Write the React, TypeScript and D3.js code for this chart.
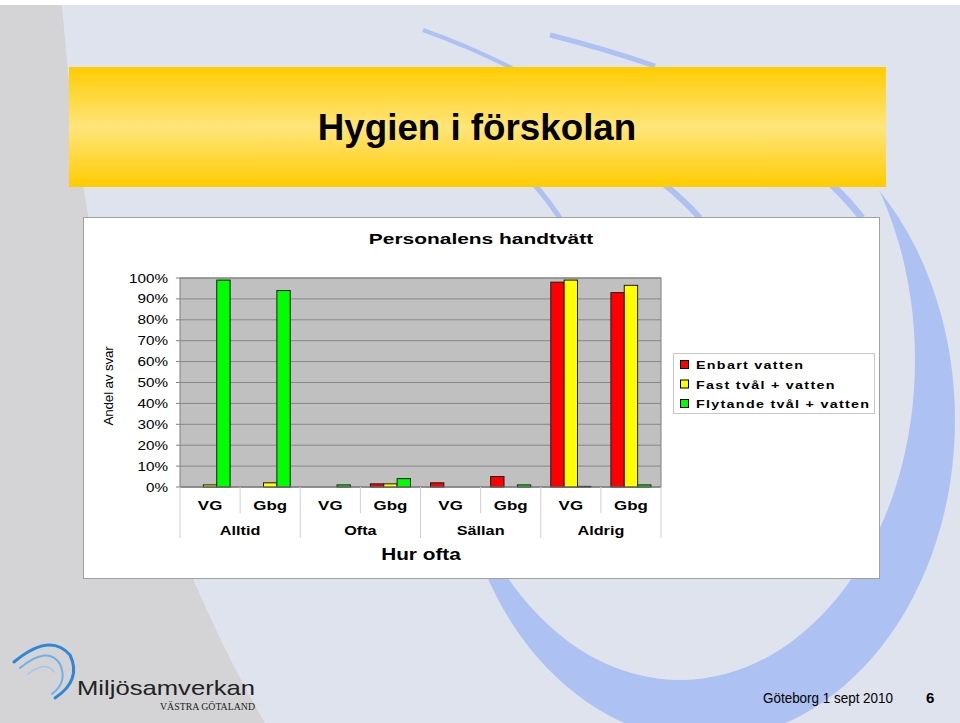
import React from "react";
import * as d3 from "d3";

const regions = ["VG", "Gbg"];
const frequencies = ["Alltid", "Ofta", "Sällan", "Aldrig"];
const seriesNames = ["Enbart vatten", "Fast tvål + vatten", "Flytande tvål + vatten"];
const seriesColors = ["#ff0000", "#ffff00", "#00ff00"];
const enbartVatten = [0, 0, 0, 1.5, 2, 5, 98, 93];
const fastTval = [1, 2, 0, 1.5, 0, 0, 99, 96.5];
const flytandeTval = [99, 94, 1, 4, 0, 1, 0.3, 1];
const yTicks = [0, 10, 20, 30, 40, 50, 60, 70, 80, 90, 100];

const SX = 1.3;
const font = "'Liberation Sans', Arial, sans-serif";

function T(props: { x: number; y: number; size: number; bold?: boolean; anchor?: string; sx?: number; children: React.ReactNode; family?: string; fill?: string; ls?: number }) {
  const { x, y, size, bold, anchor = "start", sx = SX, children, family = font, fill = "#000", ls = 0 } = props;
  return (
    <text transform={`translate(${x},${y}) scale(${sx},1)`} textAnchor={anchor} fontFamily={family}
      fontWeight={bold ? "bold" : "normal"} fontSize={size} fill={fill} letterSpacing={ls}>
      {children}
    </text>
  );
}

export default function App() {
  const W = 960, H = 723;
  const plot = { x0: 180, x1: 661, y0: 278, y1: 487 };
  const groups = frequencies.flatMap((f) => regions.map((r) => `${f}|${r}`));
  const x = d3.scaleBand<string>().domain(groups).range([plot.x0, plot.x1]);
  const xs = d3.scaleBand<number>().domain([0, 1, 2]).range([0, x.bandwidth()]).paddingOuter(0.75).paddingInner(0);
  const y = d3.scaleLinear().domain([0, 100]).range([plot.y1, plot.y0]);
  const freqX = d3.scaleBand<string>().domain(frequencies).range([plot.x0, plot.x1]);
  const series = [enbartVatten, fastTval, flytandeTval];
  const blue = "#adc2f2";

  return (
    <svg width={W} height={H} style={{ position: "absolute", left: 0, top: 0 }} xmlns="http://www.w3.org/2000/svg">
      <defs>
        <linearGradient id="banner" x1="0" y1="0" x2="0" y2="1">
          <stop offset="0" stopColor="#ffcc00" />
          <stop offset="0.5" stopColor="#ffe57a" />
          <stop offset="1" stopColor="#ffcc00" />
        </linearGradient>
        <clipPath id="bgclip"><rect x={0} y={5} width={W} height={H - 5} /></clipPath>
        <mask id="crescent">
          <rect x={0} y={0} width={W} height={H} fill="black" />
          <ellipse cx={705} cy={420} rx={250} ry={320} fill="white" />
          <ellipse cx={680} cy={360} rx={235} ry={320} fill="black" />
        </mask>
      </defs>
      <rect x={0} y={0} width={W} height={H} fill="#ffffff" />
      <g clipPath="url(#bgclip)">
        <rect x={0} y={5} width={W} height={H} fill="#dfe3ee" />
        <path d="M0,5 L62,5 Q95,430 265,723 L0,723 Z" fill="#d4d4d6" />
        <rect x={0} y={0} width={W} height={H} fill={blue} mask="url(#crescent)" />
        <path d="M423,30 Q468,46 512,68" stroke={blue} strokeWidth={4} fill="none" />
        <path d="M550,35 Q602,48 655,66" stroke={blue} strokeWidth={5} fill="none" />
        <path d="M535,185 Q548,200 560,218" stroke={blue} strokeWidth={5} fill="none" />
        <path d="M665,185 Q684,200 700,218" stroke={blue} strokeWidth={6} fill="none" />
        <path d="M832,185 Q848,200 862,218" stroke={blue} strokeWidth={7} fill="none" />
      </g>
      {/* banner */}
      <rect x={69} y={67} width={817} height={120} fill="url(#banner)" />
      <T x={477} y={140} size={37.5} bold anchor="middle" sx={0.98}>Hygien i förskolan</T>
      {/* chart box */}
      <rect x={83.5} y={217.5} width={796} height={361} fill="#ffffff" stroke="#a0a0a0" strokeWidth={1} />
      <T x={481} y={244} size={15.5} bold anchor="middle" sx={1.35}>Personalens handtvätt</T>
      {/* plot area */}
      <rect x={plot.x0} y={plot.y0} width={plot.x1 - plot.x0} height={plot.y1 - plot.y0} fill="#c0c0c0" />
      {yTicks.map((t) => (
        <g key={t}>
          <line x1={plot.x0} x2={plot.x1} y1={y(t)} y2={y(t)} stroke="#878787" strokeWidth={1} />
          <line x1={plot.x0 - 4} x2={plot.x0} y1={y(t)} y2={y(t)} stroke="#808080" strokeWidth={1} />
          <T x={168} y={y(t) + 4.5} size={12.5} anchor="end" sx={1.22}>{t}%</T>
        </g>
      ))}
      <rect x={plot.x0} y={plot.y0} width={plot.x1 - plot.x0} height={plot.y1 - plot.y0} fill="none" stroke="#808080" strokeWidth={1} />
      <text transform="translate(113,386) rotate(-90)" textAnchor="middle" fontFamily={font} fontSize={13.5} letterSpacing={-0.2}>Andel av svar</text>
      {/* bars */}
      {groups.map((g, gi) => (
        <g key={g}>
          {series.map((vals, si) =>
            vals[gi] > 0 ? (
              <rect key={si} x={(x(g) as number) + (xs(si) as number)} y={y(vals[gi])} width={xs.bandwidth()} height={y(0) - y(vals[gi])}
                fill={seriesColors[si]} stroke="#1a1a1a" strokeWidth={1} />
            ) : null
          )}
        </g>
      ))}
      {/* category axis */}
      <line x1={plot.x0} x2={plot.x1} y1={plot.y1} y2={plot.y1} stroke="#808080" />
      {groups.map((g, gi) => {
        const xl = x(g) as number;
        const isPairStart = gi % 2 === 0;
        return (
          <g key={g}>
            <line x1={xl} x2={xl} y1={plot.y1} y2={isPairStart ? 538 : 513} stroke="#d0d0d0" strokeWidth={1} />
            <T x={xl + x.bandwidth() / 2} y={510} size={13} bold anchor="middle">{g.split("|")[1]}</T>
          </g>
        );
      })}
      <line x1={plot.x1} x2={plot.x1} y1={plot.y1} y2={538} stroke="#d0d0d0" strokeWidth={1} />
      {frequencies.map((f) => (
        <T key={f} x={(freqX(f) as number) + freqX.bandwidth() / 2} y={535} size={12.5} bold anchor="middle">{f}</T>
      ))}
      <T x={421} y={560} size={16} bold anchor="middle">Hur ofta</T>
      {/* legend */}
      <rect x={673.5} y={353.5} width={201} height={60} fill="#fff" stroke="#c8c8c8" />
      {seriesNames.map((s, i) => (
        <g key={s}>
          <rect x={680.5} y={360.5 + i * 19.5} width={8} height={8} fill={seriesColors[i]} stroke="#000" />
          <T x={696} y={369 + i * 19.5} size={11} bold ls={1}>{s}</T>
        </g>
      ))}
      {/* logo */}
      <g fill="none" strokeLinecap="round">
        <path d="M14,662 Q50,632 70,655 Q82,680 55,698" strokeWidth={3} stroke="#2f86d8" />
        <path d="M20,668 Q48,645 60,664 Q68,682 52,694" strokeWidth={2} stroke="#6fb0ea" />
        <path d="M28,674 Q46,660 54,672" strokeWidth={1.5} stroke="#9cc8ef" />
      </g>
      <text x={77} y={695} fontFamily={font} fontSize={21} fill="#222" textLength={178} lengthAdjust="spacingAndGlyphs">Miljösamverkan</text>
      <text x={160} y={710} fontFamily="'Liberation Serif', 'Times New Roman', serif" fontSize={10} fill="#222" textLength={95} lengthAdjust="spacingAndGlyphs">VÄSTRA GÖTALAND</text>
      <text x={763} y={703} fontFamily={font} fontSize={14.5} fill="#000" textLength={130} lengthAdjust="spacingAndGlyphs">Göteborg 1 sept 2010</text>
      <text x={926} y={703} fontFamily={font} fontWeight="bold" fontSize={15} fill="#000">6</text>
    </svg>
  );
}
